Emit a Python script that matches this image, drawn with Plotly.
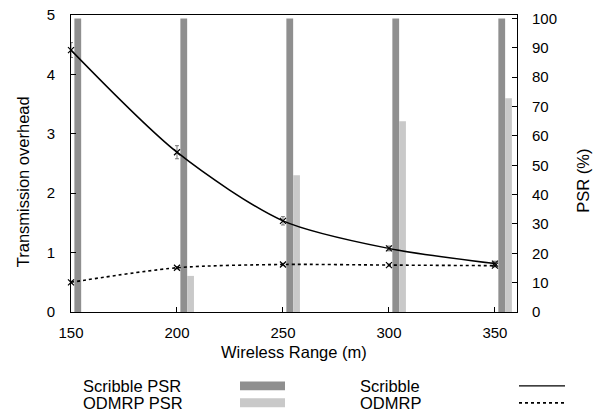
import plotly.graph_objects as go

# ---- data ----
ranges = [150, 200, 250, 300, 350]
scribble_psr = [100, 100, 100, 100, 100]
odmrp_psr = [0, 12.3, 46.6, 65, 72.8]
scribble_overhead = [4.41, 2.69, 1.535, 1.07, 0.815]
scribble_err = [0.125, 0.11, 0.07, 0.04, 0.04]
odmrp_overhead = [0.50, 0.745, 0.80, 0.79, 0.78]
odmrp_err = [0.02, 0.02, 0.02, 0.02, 0.02]
x_ticks = [150, 200, 250, 300, 350]
left_ticks = [0, 1, 2, 3, 4, 5]
right_ticks = [0, 10, 20, 30, 40, 50, 60, 70, 80, 90, 100]

FONT = "Liberation Sans, Arial, Helvetica, sans-serif"
FS_TICK = 15
FS_TEXT = 16.5
DARK = "#8f8f8f"
LIGHT = "#c9c9c9"

fig = go.Figure()

fig.add_trace(go.Bar(x=ranges, y=scribble_psr, width=3.2, offset=1.6,
                     marker=dict(color=DARK, line=dict(width=0)),
                     yaxis="y", showlegend=False, name="Scribble PSR"))
fig.add_trace(go.Bar(x=ranges, y=odmrp_psr, width=3.2, offset=4.8,
                     marker=dict(color=LIGHT, line=dict(width=0)),
                     yaxis="y", showlegend=False, name="ODMRP PSR"))

fig.add_trace(go.Scatter(x=ranges, y=scribble_overhead, yaxis="y2",
                         mode="lines+markers", name="Scribble",
                         line=dict(color="black", width=1.5, shape="spline", smoothing=0.8),
                         marker=dict(symbol="x-thin", size=6, line=dict(width=1.2, color="black")),
                         error_y=dict(type="data", array=scribble_err, color="#555",
                                      thickness=0.8, width=2),
                         cliponaxis=False, showlegend=False))
fig.add_trace(go.Scatter(x=ranges, y=odmrp_overhead, yaxis="y2",
                         mode="lines+markers", name="ODMRP",
                         line=dict(color="black", width=1.6, dash="dot", shape="spline", smoothing=0.8),
                         marker=dict(symbol="x-thin", size=6, line=dict(width=1.2, color="black")),
                         error_y=dict(type="data", array=odmrp_err, color="#555",
                                      thickness=0.8, width=2),
                         cliponaxis=False, showlegend=False))

L, R, T, B = 71, 83, 15, 99.5
W = 600 - L - R
H = 412 - T - B

def px(xp):
    return (xp - L) / W

def py(yp):
    return (412 - B - yp) / H

fig.update_layout(
    width=600, height=412,
    margin=dict(l=L, r=R, t=T, b=B, autoexpand=False),
    paper_bgcolor="white", plot_bgcolor="white",
    barmode="overlay",
    font=dict(family=FONT, size=FS_TEXT, color="black"),
    xaxis=dict(range=[150, 360.4], tickvals=x_ticks, ticks="inside", ticklen=5,
               tickcolor="black", showline=True, linecolor="black", linewidth=1,
               mirror=True, showgrid=False, zeroline=False, ticklabelstandoff=7,
               tickfont=dict(size=FS_TICK)),
    yaxis=dict(range=[0, 101.2], tickvals=right_ticks, side="right", ticks="inside",
               ticklen=5, tickcolor="black", showline=True, linecolor="black",
               linewidth=1, showgrid=False, zeroline=False, ticklabelstandoff=11,
               tickfont=dict(size=FS_TICK)),
    yaxis2=dict(range=[0, 5.0], tickvals=left_ticks, side="left", overlaying="y",
                ticks="inside", ticklen=5, tickcolor="black", showline=True,
                linecolor="black", linewidth=1, showgrid=False, zeroline=False,
                ticklabelstandoff=12, tickfont=dict(size=FS_TICK)),
)

ann = []
ann.append(dict(text="Wireless Range (m)", x=px(294), y=py(353), xref="paper", yref="paper",
                showarrow=False, xanchor="center", yanchor="middle"))
ann.append(dict(text="Transmission overhead", x=px(22.5), y=py(182), xref="paper", yref="paper",
                showarrow=False, textangle=-90, xanchor="center", yanchor="middle"))
ann.append(dict(text="PSR (%)", x=px(583), y=py(181), xref="paper", yref="paper",
                showarrow=False, textangle=-90, xanchor="center", yanchor="middle"))

legend_rows = [("Scribble PSR", DARK, "Scribble", "solid", 386.5),
               ("ODMRP PSR", LIGHT, "ODMRP", "dot", 403.5)]
shapes = []
for bar_label, col, line_label, dash, yc in legend_rows:
    ann.append(dict(text=bar_label, x=px(80.7), y=py(yc), xref="paper", yref="paper",
                    showarrow=False, xanchor="left", yanchor="middle"))
    ann.append(dict(text=line_label, x=px(358), y=py(yc), xref="paper", yref="paper",
                    showarrow=False, xanchor="left", yanchor="middle"))
    shapes.append(dict(type="rect", xref="paper", yref="paper",
                       x0=px(240), x1=px(285), y0=py(yc - 4.5), y1=py(yc + 4.5),
                       fillcolor=col, line=dict(width=0)))
    shapes.append(dict(type="line", xref="paper", yref="paper",
                       x0=px(519), x1=px(565), y0=py(yc), y1=py(yc),
                       line=dict(color="black", width=1.2 if dash == "solid" else 1.6, dash=dash)))

fig.update_layout(annotations=ann, shapes=shapes)

fig.write_html("out.html", config={"displayModeBar": False},
               post_script="document.body.style.margin='0';document.body.style.padding='0';")
